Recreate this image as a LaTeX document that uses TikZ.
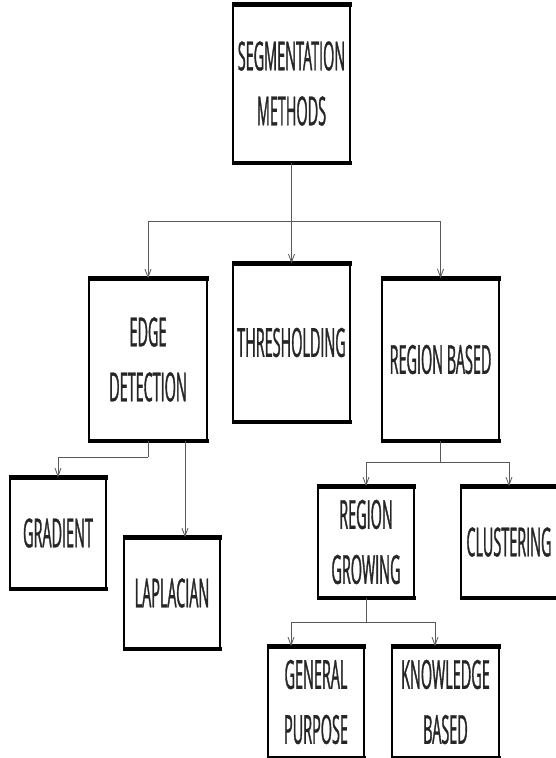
\documentclass[tikz,border=0pt]{standalone}
\usepackage{fontspec}
\setmainfont[FakeStretch=0.36, FakeBold=0.8]{Open Sans}
\usetikzlibrary{arrows.meta}

\tikzset{
    box/.style={draw, line width=1.5pt, fill=white, align=center, inner sep=0pt,
        text=black!85, font=\fontsize{40}{55}\selectfont},
    bar/.style={line width=4.5pt},
    link/.style={draw=black!65, line width=0.8pt},
    arrowlink/.style={link, -{Straight Barb[length=8pt, width=6pt]}}
}

\begin{document}
\begin{tikzpicture}[x=1pt, y=-1pt]
    \useasboundingbox[fill=white] (0,0) rectangle (555,758);

    % boxes
    \node[box, minimum width=117pt, minimum height=157pt] (seg) at (291.5,83.5)
        {SEGMENTATION\\METHODS};
    \node[box, minimum width=118pt, minimum height=161pt] (edge) at (148,359.5)
        {EDGE\\DETECTION};
    \node[box, minimum width=117pt, minimum height=157pt] (thresh) at (291.5,342.5)
        {THRESHOLDING};
    \node[box, minimum width=117pt, minimum height=161pt] (region) at (440.5,359.5)
        {REGION BASED};
    \node[box, minimum width=96pt, minimum height=110pt] (gradient) at (58,533)
        {GRADIENT};
    \node[box, minimum width=96pt, minimum height=110pt] (laplacian) at (172,593)
        {LAPLACIAN};
    \node[box, minimum width=96pt, minimum height=110pt] (growing) at (366,542)
        {REGION\\GROWING};
    \node[box, minimum width=96pt, minimum height=110pt] (cluster) at (509,542)
        {CLUSTERING};
    \node[box, minimum width=96pt, minimum height=110pt] (general) at (316,702)
        {GENERAL\\PURPOSE};
    \node[box, minimum width=107pt, minimum height=110pt] (knowledge) at (445.5,702)
        {KNOWLEDGE\\BASED};

    % heavy top and bottom edges
    \foreach \n in {seg, edge, thresh, region, gradient, laplacian, growing, cluster, general, knowledge}
        \draw[bar] ([xshift=-0.75pt]\n.north west) -- ([xshift=0.75pt]\n.north east)
                   ([xshift=-0.75pt]\n.south west) -- ([xshift=0.75pt]\n.south east);

    % connectors
    \coordinate (jseg) at (291.5,221);
    \draw[link] (seg.south) -- (jseg);
    \draw[arrowlink] (jseg) -| (edge.north);
    \draw[arrowlink] (jseg) -- (thresh.north);
    \draw[arrowlink] (jseg) -| (region.north);

    \coordinate (jedge) at (148,457);
    \draw[link] (edge.south) -- (jedge);
    \draw[arrowlink] (jedge) -| (gradient.north);
    \draw[arrowlink] ([xshift=13pt]laplacian.north |- edge.south) -- ([xshift=13pt]laplacian.north);

    \coordinate (jregion) at (440.5,462);
    \draw[link] (region.south) -- (jregion);
    \draw[arrowlink] (jregion) -| (growing.north);
    \draw[arrowlink] (jregion) -| (cluster.north);

    \coordinate (jgrow) at (366,622);
    \draw[link] (growing.south) -- (jgrow);
    \draw[arrowlink] (jgrow) -| ([xshift=-25pt]general.north);
    \draw[arrowlink] (jgrow) -| ([xshift=-10.5pt]knowledge.north);
\end{tikzpicture}
\end{document}
